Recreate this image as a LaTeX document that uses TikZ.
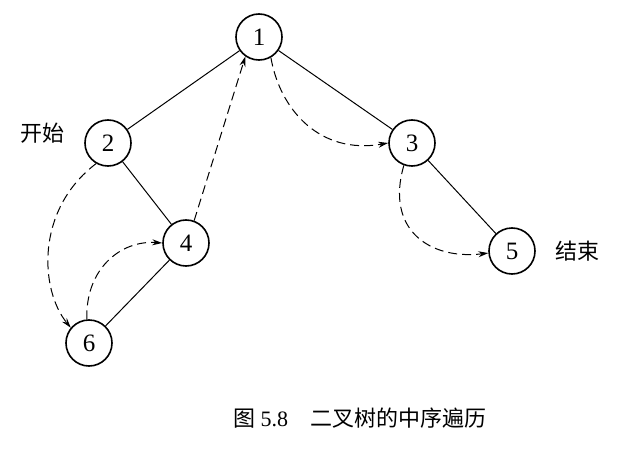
\documentclass[tikz,border=0pt]{standalone}
\usepackage{fontspec}
\setmainfont{Liberation Serif}
\newfontfamily\cjk{Noto Sans CJK SC}
\usetikzlibrary{arrows.meta}
\begin{document}
\begin{tikzpicture}[x=1pt,y=-1pt,
  vtx/.style={circle,draw,line width=1.6pt,minimum size=46pt,inner sep=0pt,font=\fontsize{25}{27}\selectfont},
  edge/.style={line width=1pt},
  trav/.style={line width=1pt,dash pattern=on 9pt off 5pt,-{Stealth[length=10pt,width=6pt]}},
  lbl/.style={font=\cjk\fontsize{22}{24}\selectfont}]
\useasboundingbox (0,0) rectangle (622,455);
\node[vtx] (n1) at (259,37) {1};
\node[vtx] (n2) at (108,143) {2};
\node[vtx] (n3) at (412,143) {3};
\node[vtx] (n4) at (186,243) {4};
\node[vtx] (n5) at (512,251) {5};
\node[vtx] (n6) at (89,343) {6};
\node[lbl] (ks) at (42,133) {开始};
\node[lbl] (js) at (577,251) {结束};
\draw[edge] (n1) -- (n2);
\draw[edge] (n1) -- (n3);
\draw[edge] (n2) -- (n4);
\draw[edge] (n3) -- (n5);
\draw[edge] (n4) -- (n6);
\draw[trav] (n2.240) .. controls (35,210) and (40,290) .. (n6.140);
\draw[trav] (n6.95) .. controls (85,270) and (120,240) .. (n4.180);
\draw[trav] (n4.70) -- (n1.235);
\draw[trav] (n1.300) .. controls (280,110) and (320,155) .. (n3.180);
\draw[trav] (n3.250) .. controls (385,230) and (430,260) .. (n5.185);
\node[font=\cjk\fontsize{22}{24}\selectfont] (cap) at (360,418) {图 {\rmfamily 5.8}\hspace{1em}二叉树的中序遍历};
\end{tikzpicture}
\end{document}
